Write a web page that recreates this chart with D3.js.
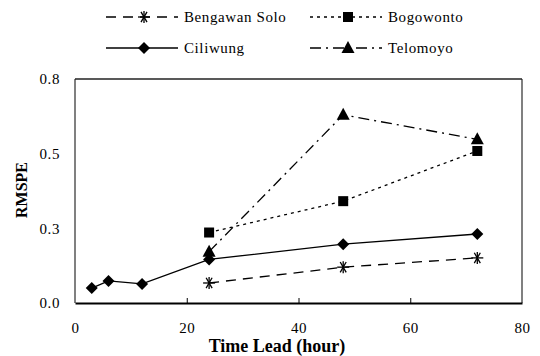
<!DOCTYPE html>
<html>
<head>
<meta charset="utf-8">
<style>
  body { margin: 0; background: #fff; }
  svg { display: block; }
</style>
</head>
<body>
<div id="chart"></div>
<script src="https://cdn.jsdelivr.net/npm/d3@7"></script>
<script>
// series values
const ciliwungX = [3, 6, 12, 24, 48, 72];
const ciliwungY = [0.050, 0.074, 0.064, 0.146, 0.197, 0.231];
const bengawanX = [24, 48, 72];
const bengawanY = [0.067, 0.120, 0.151];
const bogowontoX = [24, 48, 72];
const bogowontoY = [0.236, 0.341, 0.509];
const telomoyoX = [24, 48, 72];
const telomoyoY = [0.172, 0.630, 0.548];

const xTicks = [0, 20, 40, 60, 80];
const yTicks = [0, 0.25, 0.5, 0.75];
const yTickLabels = ["0.0", "0.3", "0.5", "0.8"];

// regular Liberation Serif stays serif here only at small size / small spacing
const serif = "Liberation Serif";

const width = 540, height = 356;
const margin = {top: 79, right: 18, bottom: 53, left: 75};

const series = [
  {name: "Bengawan Solo", xs: bengawanX, ys: bengawanY, dash: "10,7", symbol: "star"},
  {name: "Bogowonto", xs: bogowontoX, ys: bogowontoY, dash: "3,4", symbol: "square"},
  {name: "Ciliwung", xs: ciliwungX, ys: ciliwungY, dash: null, symbol: "diamond"},
  {name: "Telomoyo", xs: telomoyoX, ys: telomoyoY, dash: "11,5,2,5", symbol: "triangle"}
];

const x = d3.scaleLinear().domain([0, 80]).range([margin.left, width - margin.right]);
const y = d3.scaleLinear().domain([0, 0.75]).range([height - margin.bottom, margin.top]);

const svg = d3.select("#chart").append("svg")
    .attr("width", width)
    .attr("height", height)
    .attr("font-family", serif);

// frame
const x0 = x.range()[0], x1 = x.range()[1], y0 = y.range()[0], y1 = y.range()[1];
svg.append("line").attr("x1", x0).attr("x2", x0).attr("y1", y1).attr("y2", y0)
    .attr("stroke", "#808080").attr("stroke-width", 2);
svg.append("line").attr("x1", x1).attr("x2", x1).attr("y1", y1).attr("y2", y0)
    .attr("stroke", "#808080").attr("stroke-width", 2);
svg.append("line").attr("x1", x0).attr("x2", x1).attr("y1", y1).attr("y2", y1)
    .attr("stroke", "#222").attr("stroke-width", 1.5);

// x axis
const gx = svg.append("g")
    .attr("transform", `translate(0,${y0})`)
    .call(d3.axisBottom(x).tickValues(xTicks).tickSizeInner(-5).tickSizeOuter(0).tickPadding(19));
gx.attr("font-family", serif).attr("font-size", 15);
gx.select(".domain").attr("stroke", "#000").attr("stroke-width", 2);
gx.selectAll(".tick line").attr("stroke", "#000");
gx.selectAll(".tick text").attr("fill", "#000").attr("letter-spacing", 0.6);
gx.selectAll(".tick").filter(d => d === 0 || d === 80).select("line").remove();

// y axis labels
const gy = svg.append("g")
    .attr("transform", `translate(${x0},0)`)
    .call(d3.axisLeft(y).tickValues(yTicks).tickFormat((d, i) => yTickLabels[i]).tickSize(0).tickPadding(15));
gy.attr("font-family", serif).attr("font-size", 15);
gy.selectAll(".tick text").attr("fill", "#000").attr("letter-spacing", 0.6);
gy.select(".domain").remove();

// axis titles
svg.append("text")
    .attr("x", 277).attr("y", 352)
    .attr("text-anchor", "middle")
    .attr("font-size", 18).attr("font-weight", "bold")
    .text("Time Lead (hour)");
svg.append("text")
    .attr("transform", `translate(27,190) rotate(-90)`)
    .attr("text-anchor", "middle")
    .attr("font-size", 16).attr("font-weight", "bold")
    .text("RMSPE");

function drawMarker(g, type, cx, cy) {
  if (type === "star") {
    const r = 6;
    const p = g.append("g").attr("transform", `translate(${cx},${cy})`);
    [0, 60, 120].forEach(a => {
      const rad = a * Math.PI / 180;
      p.append("line")
          .attr("x1", -r * Math.cos(rad)).attr("y1", -r * Math.sin(rad))
          .attr("x2", r * Math.cos(rad)).attr("y2", r * Math.sin(rad))
          .attr("stroke", "#000").attr("stroke-width", 1.3);
    });
    p.append("line").attr("x1", 0).attr("x2", 0).attr("y1", -r).attr("y2", r)
        .attr("stroke", "#000").attr("stroke-width", 1.3);
  } else if (type === "square") {
    g.append("rect").attr("x", cx - 5).attr("y", cy - 5).attr("width", 10).attr("height", 10).attr("fill", "#000");
  } else if (type === "diamond") {
    g.append("path").attr("d", `M${cx},${cy - 6}L${cx + 6},${cy}L${cx},${cy + 6}L${cx - 6},${cy}Z`).attr("fill", "#000");
  } else if (type === "triangle") {
    g.append("path").attr("d", `M${cx},${cy - 7}L${cx + 6.5},${cy + 5}L${cx - 6.5},${cy + 5}Z`).attr("fill", "#000");
  }
}

const line = d3.line().x(d => x(d[0])).y(d => y(d[1]));

series.forEach(s => {
  const pts = s.xs.map((v, i) => [v, s.ys[i]]);
  svg.append("path")
      .datum(pts)
      .attr("fill", "none")
      .attr("stroke", "#000")
      .attr("stroke-width", 1.3)
      .attr("stroke-dasharray", s.dash)
      .attr("d", line);
  const g = svg.append("g");
  pts.forEach(p => drawMarker(g, s.symbol, x(p[0]), y(p[1])));
});

// legend
const legendPos = [[106, 17], [310, 17], [106, 48], [310, 48]];
series.forEach((s, i) => {
  const [lx, ly] = legendPos[i];
  const g = svg.append("g");
  g.append("line").attr("x1", lx).attr("x2", lx + 72).attr("y1", ly).attr("y2", ly)
      .attr("stroke", "#000").attr("stroke-width", 1.3)
      .attr("stroke-dasharray", s.dash);
  drawMarker(g, s.symbol, lx + 38, ly);
  g.append("text").attr("x", lx + 78).attr("y", ly + 5)
      .attr("font-size", 15).attr("letter-spacing", 0.6)
      .text(s.name);
});
</script>
</body>
</html>
